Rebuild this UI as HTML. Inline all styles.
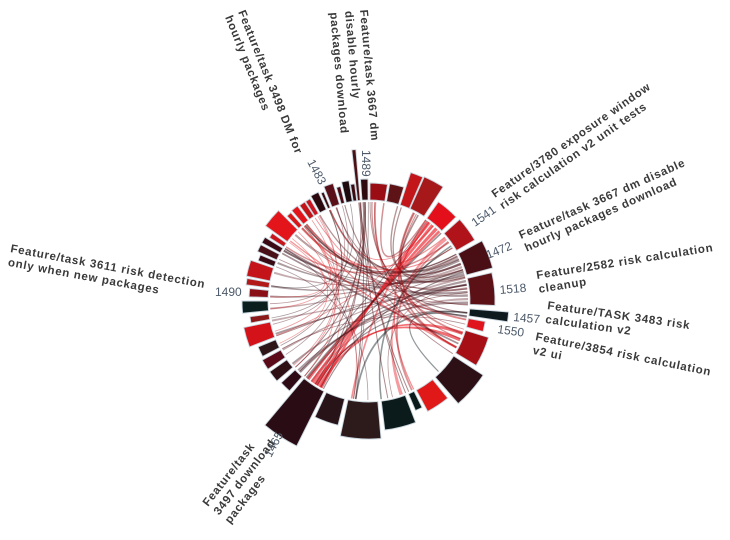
<!DOCTYPE html>
<html><head><meta charset="utf-8"><style>
html,body{margin:0;padding:0;background:#fff;width:730px;height:540px;overflow:hidden}
svg{display:block}
.l{font-family:"Liberation Sans",sans-serif;font-weight:bold;font-size:11.5px;fill:#3a3a3a;letter-spacing:0.75px}
.n{font-family:"Liberation Sans",sans-serif;font-size:12px;fill:#4d5a6a}
</style></head><body>
<svg id="s" width="730" height="540" viewBox="0 0 730 540" xmlns="http://www.w3.org/2000/svg">
<g id="chords"></g><g id="bars"></g>
<text class="l" transform="translate(238,12) rotate(68)">Feature/task 3498 DM for<tspan x="0" dy="14">hourly packages</tspan></text>
<text class="l" transform="translate(360,10) rotate(85)">Feature/task 3667 dm<tspan x="0" dy="15">disable hourly</tspan><tspan x="0" dy="15">packages download</tspan></text>
<text class="n" transform="translate(307,162) rotate(62)">1483</text>
<text class="n" transform="translate(362,150) rotate(90)">1489</text>
<text class="l" transform="translate(495,198) rotate(-35)">Feature/3780 exposure window<tspan x="0" dy="14">risk calculation v2 unit tests</tspan></text>
<text class="n" transform="translate(475,227) rotate(-35)">1541</text>
<text class="l" transform="translate(521,239) rotate(-24)">Feature/task 3667 dm disable<tspan x="0" dy="14">hourly packages download</tspan></text>
<text class="n" transform="translate(488,259) rotate(-22)">1472</text>
<text class="l" transform="translate(537,279) rotate(-9)">Feature/2582 risk calculation<tspan x="0" dy="14">cleanup</tspan></text>
<text class="n" transform="translate(500,294) rotate(-5)">1518</text>
<text class="l" transform="translate(547,309) rotate(8)">Feature/TASK 3483 risk<tspan x="0" dy="14">calculation v2</tspan></text>
<text class="n" transform="translate(513,321) rotate(5)">1457</text>
<text class="n" transform="translate(497,333) rotate(8)">1550</text>
<text class="l" transform="translate(535,340) rotate(11.5)">Feature/3854 risk calculation<tspan x="0" dy="14">v2 ui</tspan></text>
<text class="l" transform="translate(10,252) rotate(10.5)">Feature/task 3611 risk detection<tspan x="0" dy="14">only when new packages</tspan></text>
<text class="n" transform="translate(215,296)">1490</text>
<text class="l" transform="translate(208,507) rotate(-52)">Feature/task<tspan x="0" dy="14">3497 download</tspan><tspan x="0" dy="14">packages</tspan></text>
<text class="n" transform="translate(271,458) rotate(-62)">1465</text>
</svg>
<script>
(function(){
var cx=369,cy=301,R0=101,NS="http://www.w3.org/2000/svg";
function pt(a,r){var t=a*Math.PI/180;return [cx+r*Math.sin(t),cy-r*Math.cos(t)];}
function f(p){return p[0].toFixed(1)+","+p[1].toFixed(1);}
var bars=[
[0.5,9,118,'#9b0d14'],[10,17,119,'#5e1316'],[18,23.5,135,'#c2161b'],[24,33,136,'#a6181a'],
[35,46,121,'#e3101b'],[48,60,122,'#b0141a'],[62,75,128,'#4a0f14'],[77,92,126,'#5b1116'],
[94.5,98.5,140,'#0d1a1e'],[100,105,118,'#e0141c'],[107,121,125,'#a50f15'],[123,139,136,'#2d1015'],
[141,152,125,'#e01818'],[153.5,157,119,'#0a1a1a'],[159,173,130,'#0b1a1a'],[175,192,138,'#2d1a1a'],
[194,205,128,'#281418'],[206.5,220,162,'#2a0d14'],[221.5,227,120,'#2d0a14'],[229,234.5,122,'#2d0f14'],
[236,241,122,'#5a0a18'],[242.5,247.5,120,'#2d1518'],[249,258,128,'#d4121a'],[259.5,262.5,120,'#8a1a1a'],
[264.5,270,127,'#0b1e1e'],[272,276,120,'#8a1018'],[277.5,280.5,124,'#b21a1a'],[281.5,289,125,'#c4141a'],
[290,293,118,'#3a0a14'],[294,297.5,122,'#4a1018'],[298.5,301.5,122,'#3a0a14'],[302.5,305,118,'#c8141c'],
[306,315,128,'#e3141a'],[316,318.5,118,'#d81618'],[319.5,323,119,'#e0141a'],[324,327,118,'#c01418'],
[327.5,330,118,'#c81420'],[331,335,120,'#2a080e'],[336,337.5,118,'#3a0a10'],[338.5,343,123,'#5a1018'],
[344,346,118,'#4a0a14'],[347,350.5,122,'#1e0a0e'],[351,353,118,'#3a0a10'],[353.5,355,152,'#4a1014'],
[356,359.5,122,'#2e0a10']];
var bg=document.getElementById('bars'),cg=document.getElementById('chords');
bars.forEach(function(b){
 var p=document.createElementNS(NS,'path');
 var a=pt(b[0],R0),c=pt(b[1],R0),d=pt(b[1],b[2]),e=pt(b[0],b[2]);
 p.setAttribute('d','M'+f(a)+' A'+R0+','+R0+' 0 0 1 '+f(c)+' L'+f(d)+' A'+b[2]+','+b[2]+' 0 0 0 '+f(e)+'Z');
 p.setAttribute('fill',b[3]);p.setAttribute('stroke','#c9d6de');p.setAttribute('stroke-width','0.9');
 bg.appendChild(p);
});
var seed=7;function rnd(){seed=(seed*16807)%2147483647;return (seed-1)/2147483646;}
function colOf(a){for(var i=0;i<bars.length;i++){if(a>=bars[i][0]-1&&a<=bars[i][1]+1)return bars[i][3];}return '#5a1a20';}
function rib(a0,a1,b0,b1,col,op){
 var r=99,p=document.createElementNS(NS,'path');
 var A0=pt(a0,r),A1=pt(a1,r),B0=pt(b0,r),B1=pt(b1,r),C=[cx,cy];
 p.setAttribute('d','M'+f(A0)+' A'+r+','+r+' 0 0 1 '+f(A1)+' Q'+f(C)+' '+f(B0)+' A'+r+','+r+' 0 0 1 '+f(B1)+' Q'+f(C)+' '+f(A0)+'Z');
 p.setAttribute('fill',col);p.setAttribute('fill-opacity',op);cg.appendChild(p);
}
function line(a,b,col,w,op){
 var r=99,p=document.createElementNS(NS,'path');
 p.setAttribute('d','M'+f(pt(a,r))+' Q'+cx+','+cy+' '+f(pt(b,r)));
 p.setAttribute('fill','none');p.setAttribute('stroke',col);p.setAttribute('stroke-width',w);p.setAttribute('stroke-opacity',op);
 cg.appendChild(p);
}
for(var i=0;i<14;i++){var a=63+i*2.1;var b=[265,272,278,286,292,300,240,230,250,258,300,320,215,225][i];
 rib(a,a+1.4,b,b+1.2,i%3==0?'#8a5a60':'#5a3a40',0.5);}
[[36,38,208,210],[39,41,211,213],[42,44,214,216],[44.5,46,217,219],[108,110,209,211],[112,114,212,214]].forEach(function(q){rib(q[0],q[1],q[2],q[3],'#e8202a',0.65);});
rib(50,52,160,162,'#e8202a',0.45);
for(var k=0;k<48;k++){
 var s=35+rnd()*90, t;
 var u=rnd();
 if(u<0.35) t=240+rnd()*120; else if(u<0.6) t=300+rnd()*60; else if(u<0.8) t=130+rnd()*100; else t=rnd()*30;
 var c=colOf(s); if(rnd()<0.4)c=colOf(t);
 line(s,t,c,0.7+rnd()*1.1,0.45);
}
for(var k=0;k<18;k++){
 var s=290+rnd()*70,t=180+rnd()*100;
 line(s,t,colOf(s),0.8,0.4);
}
for(var k=0;k<8;k++){
 var s=353+rnd()*5,t=150+rnd()*80; line(s,t,'#5a1a20',1,0.5);
}
})();
</script>
</body></html>
